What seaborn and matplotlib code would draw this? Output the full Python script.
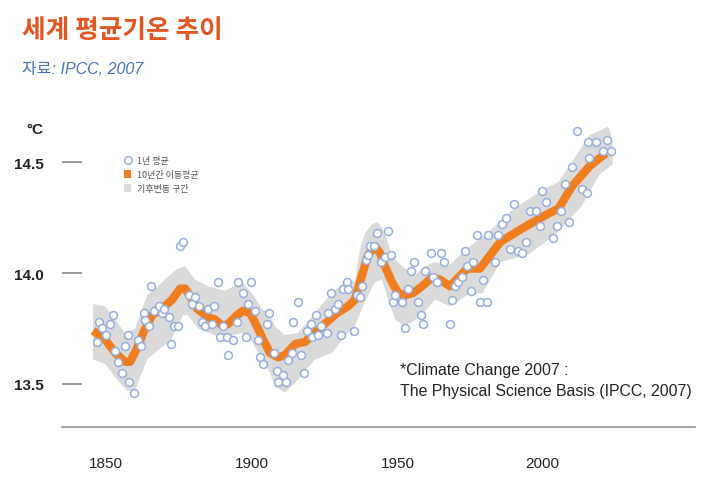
import numpy as np
import matplotlib
matplotlib.use("Agg")
import matplotlib.pyplot as plt
import seaborn as sns
from matplotlib.lines import Line2D
from matplotlib.patches import Patch

# --- data (x in the picture's own year scale) ---
# annual means (1년 평균)
pt_year = [1851.3, 1851.9, 1852.9, 1854.2, 1855.5, 1856.4, 1857.1, 1858.0, 1859.3, 1860.3,
           1861.3, 1861.6, 1863.2, 1864.5, 1865.4, 1866.4, 1866.7, 1868.0, 1868.6, 1869.6,
           1871.2, 1872.2, 1872.8, 1874.4, 1875.1, 1876.0, 1877.3, 1878.0, 1878.9, 1880.9,
           1881.8, 1882.8, 1884.1, 1885.0, 1886.0, 1887.0, 1888.3, 1888.9, 1890.2, 1890.8,
           1891.8, 1893.1, 1893.4, 1895.0, 1896.3, 1896.6, 1898.2, 1899.2, 1899.8, 1900.8,
           1902.1, 1903.1, 1903.7, 1904.7, 1905.9, 1906.6, 1908.2, 1909.2, 1909.5, 1911.1,
           1912.1, 1912.7, 1914.0, 1914.3, 1915.9, 1916.9, 1917.8, 1918.8, 1920.1, 1920.4,
           1921.7, 1922.3, 1923.3, 1925.2, 1925.6, 1926.5, 1927.8, 1928.8, 1929.7, 1930.4,
           1931.7, 1932.0, 1933.9, 1934.9, 1935.9, 1936.5, 1937.8, 1938.4, 1939.1, 1940.4,
           1941.3, 1942.6, 1943.9, 1944.9, 1945.8, 1946.5, 1947.1, 1949.4, 1950.3, 1951.3,
           1952.3, 1953.2, 1954.5, 1955.5, 1956.1, 1956.8, 1958.7, 1959.3, 1960.6, 1961.9,
           1962.9, 1964.8, 1965.4, 1966.4, 1967.4, 1968.6, 1969.6, 1970.3, 1971.5, 1972.2,
           1973.5, 1974.4, 1975.4, 1976.7, 1977.1, 1979.3, 1980.2, 1981.4, 1982.8, 1984.1,
           1985.3, 1986.7, 1987.9, 1989.3, 1990.6, 1992.4, 1993.6, 1994.5, 1995.7, 1997.9,
           1999.2, 2000.6, 2001.8, 2003.2, 2004.0, 2005.7, 2007.1, 2008.8, 2009.2, 2009.6,
           2011.8, 2014.0, 2015.3, 2016.7]
pt_temp = [13.69, 13.78, 13.75, 13.72, 13.77, 13.81, 13.65, 13.60, 13.55, 13.67,
           13.72, 13.51, 13.46, 13.70, 13.67, 13.82, 13.79, 13.76, 13.94, 13.83,
           13.85, 13.82, 13.84, 13.80, 13.68, 13.76, 13.76, 14.12, 14.14, 13.90,
           13.86, 13.89, 13.85, 13.78, 13.76, 13.84, 13.77, 13.85, 13.96, 13.71,
           13.76, 13.71, 13.63, 13.70, 13.78, 13.96, 13.91, 13.71, 13.86, 13.96,
           13.83, 13.70, 13.62, 13.59, 13.77, 13.82, 13.64, 13.56, 13.51, 13.54,
           13.51, 13.61, 13.64, 13.78, 13.87, 13.63, 13.55, 13.74, 13.77, 13.71,
           13.81, 13.72, 13.76, 13.73, 13.82, 13.91, 13.84, 13.86, 13.72, 13.93,
           13.96, 13.93, 13.74, 13.90, 13.89, 13.94, 14.06, 14.08, 14.12, 14.12,
           14.18, 14.05, 14.07, 14.19, 14.08, 13.87, 13.90, 13.87, 13.75, 13.93,
           14.01, 14.05, 13.87, 13.81, 13.77, 14.01, 14.09, 13.98, 13.96, 14.09,
           14.05, 13.77, 13.88, 13.94, 13.96, 13.98, 14.10, 14.03, 13.92, 14.05,
           14.17, 13.87, 13.97, 13.87, 14.17, 14.05, 14.17, 14.22, 14.25, 14.11,
           14.31, 14.10, 14.09, 14.14, 14.28, 14.28, 14.21, 14.37, 14.32, 14.16,
           14.21, 14.28, 14.40, 14.23, 14.48, 14.64, 14.38, 14.36, 14.59, 14.52,
           14.59, 14.55, 14.60, 14.55]

# 10-year moving average (10년간 이동평균)
ma_year = [1850.0, 1853.9, 1857.1, 1860.3, 1861.9, 1864.1, 1866.1, 1869.0, 1872.2, 1875.4,
           1878.0, 1879.6, 1881.8, 1883.4, 1887.0, 1889.2, 1891.8, 1893.4, 1896.3, 1898.2,
           1900.5, 1902.7, 1904.7, 1906.9, 1909.5, 1911.7, 1915.0, 1918.2, 1921.4, 1925.2,
           1928.5, 1932.0, 1934.2, 1936.5, 1938.4, 1940.7, 1942.3, 1943.9, 1946.1, 1948.1,
           1950.3, 1952.9, 1955.8, 1959.0, 1961.6, 1964.8, 1970.3, 1974.4, 1981.0, 1987.9,
           1996.7, 1999.7, 2004.0, 2009.6, 2014.9]
ma_temp = [13.74, 13.70, 13.64, 13.60, 13.60, 13.66, 13.73, 13.81, 13.84, 13.88,
           13.93, 13.93, 13.88, 13.84, 13.80, 13.79, 13.76, 13.77, 13.81, 13.83,
           13.82, 13.76, 13.70, 13.64, 13.62, 13.63, 13.68, 13.69, 13.73, 13.78,
           13.82, 13.85, 13.88, 13.99, 14.08, 14.12, 14.09, 14.03, 13.96, 13.91,
           13.90, 13.91, 13.94, 13.98, 13.97, 13.94, 14.02, 14.02, 14.14, 14.20,
           14.27, 14.29, 14.39, 14.48, 14.54]

# variability range (기후변동 구간): upper and lower edges
band_up_year = [1850.0, 1853.9, 1857.1, 1860.3, 1863.5, 1867.4, 1871.5, 1875.4, 1877.3, 1879.6,
                1882.8, 1887.0, 1892.4, 1897.9, 1901.1, 1904.3, 1906.9, 1908.5, 1911.7, 1915.9,
                1921.4, 1926.8, 1931.0, 1934.2, 1935.9, 1937.5, 1939.7, 1941.6, 1943.9, 1946.1,
                1949.4, 1953.5, 1956.8, 1960.0, 1964.1, 1970.3, 1976.7, 1985.3, 1995.3, 1999.7,
                2004.0, 2009.6, 2015.7, 2017.1]
band_up = [13.86, 13.85, 13.79, 13.73, 13.75, 13.90, 13.95, 14.00, 14.02, 14.03,
           13.97, 13.94, 13.92, 13.96, 13.91, 13.84, 13.81, 13.76, 13.72, 13.73,
           13.82, 13.91, 13.96, 13.96, 14.11, 14.18, 14.22, 14.23, 14.18, 14.08,
           14.03, 13.99, 14.03, 14.05, 14.03, 14.11, 14.18, 14.29, 14.38, 14.41,
           14.50, 14.62, 14.66, 14.60]
band_lo_year = [1850.0, 1853.9, 1857.1, 1860.9, 1863.5, 1867.4, 1871.5, 1874.8, 1878.9, 1880.5,
                1883.8, 1889.2, 1892.4, 1895.0, 1897.9, 1901.1, 1904.3, 1906.9, 1908.5, 1911.7,
                1915.9, 1921.4, 1926.8, 1932.0, 1934.2, 1935.9, 1937.5, 1940.7, 1942.9, 1944.9,
                1947.1, 1950.3, 1955.8, 1960.0, 1964.8, 1970.3, 1975.4, 1981.0, 1989.7, 1998.4,
                2007.1, 2012.7, 2017.1]
band_lo = [13.61, 13.59, 13.53, 13.47, 13.47, 13.61, 13.66, 13.69, 13.81, 13.81,
           13.75, 13.72, 13.69, 13.72, 13.73, 13.69, 13.61, 13.55, 13.49, 13.46,
           13.52, 13.61, 13.64, 13.73, 13.76, 13.82, 13.87, 13.96, 13.97, 13.88,
           13.79, 13.76, 13.81, 13.88, 13.85, 13.90, 13.91, 14.05, 14.08, 14.17,
           14.30, 14.44, 14.49]

y_ticks = [13.5, 14.0, 14.5]
y_ticklabels = ["13.5", "14.0", "14.5"]
# tick labels sit where the original puts them
x_ticks = [1854.2, 1901.1, 1948.0, 1994.6]
x_ticklabels = ["1850", "1900", "1950", "2000"]

ORANGE = "#F07D1E"
BAND = "#DADADA"
DOT_EDGE = "#98AEDC"
TITLE_RED = "#E3561F"
SUB_BLUE = "#4A72B0"

sns.set_theme(style="white")
plt.rcParams["font.family"] = ["Liberation Sans", "Noto Sans CJK KR", "DejaVu Sans"]

fig = plt.figure(figsize=(7.12, 4.85), dpi=100)
ax = fig.add_axes([0.0871, 0.1175, 0.889, 0.635])

# band
ax.fill(np.r_[band_up_year, band_lo_year[::-1]], np.r_[band_up, band_lo[::-1]],
        color=BAND, lw=0, zorder=1)
# moving average
sns.lineplot(x=ma_year, y=ma_temp, ax=ax, color=ORANGE, lw=6, estimator=None,
             sort=False, zorder=2)
ax.lines[-1].set_solid_capstyle("butt")
# annual points
sns.scatterplot(x=pt_year, y=pt_temp, ax=ax, s=32, color="white",
                edgecolor=DOT_EDGE, linewidth=1.1, zorder=3)

ax.set_xlim(1840.0, 2043.6)
ax.set_ylim(13.306, 14.694)
ax.set_yticks(y_ticks)
ax.set_yticklabels(y_ticklabels, fontsize=11, fontweight="bold", color="#222222")
ax.set_xticks(x_ticks)
ax.set_xticklabels(x_ticklabels, fontsize=11, color="#222222")
ax.tick_params(axis="y", direction="in", length=14.4, width=1.1, color="#7a7a7a",
               pad=13, left=True)
ax.tick_params(axis="x", length=0, pad=21)
for side in ["left", "right", "top"]:
    ax.spines[side].set_visible(False)
ax.spines["bottom"].set_color("#8a8a8a")
ax.spines["bottom"].set_linewidth(1.1)
ax.set_xlabel("")
ax.set_ylabel("")

fig.text(35 / 712, 1 - 130 / 485, "°C", fontsize=11, fontweight="bold",
         color="#222222", ha="center", va="center")

# title + source
fig.text(22 / 712, 1 - 31 / 485, "세계 평균기온 추이", fontsize=18.5, fontweight="bold",
         color=TITLE_RED, family=["Noto Sans CJK KR"], va="center")
fig.text(22 / 712, 1 - 70 / 485, "자료: IPCC, 2007", fontsize=11.5, style="italic",
         color=SUB_BLUE, family=["Liberation Sans", "Noto Sans CJK KR"], va="center")

# source note
fig.text(400 / 712, 1 - 381 / 485,
         "*Climate Change 2007 :\nThe Physical Science Basis (IPCC, 2007)",
         fontsize=11.4, color="#222222", ha="left", va="center", linespacing=1.45)

# legend
handles = [
    Line2D([], [], marker="o", linestyle="none", markerfacecolor="white",
           markeredgecolor=DOT_EDGE, markersize=5.5, markeredgewidth=1.1),
    Patch(facecolor=ORANGE, edgecolor="none"),
    Patch(facecolor=BAND, edgecolor="none"),
]
labels = ["1년 평균", "10년간 이동평균", "기후변동 구간"]
fig.legend(handles, labels, loc="upper left", bbox_to_anchor=(124 / 712, 1 - 157 / 485),
           frameon=False, prop={"family": ["Noto Sans CJK KR"], "size": 6.5},
           labelcolor="#555555", handlelength=0.8, handleheight=1.0,
           handletextpad=0.6, labelspacing=0.55, borderpad=0, borderaxespad=0)

fig.savefig("out.png", dpi=100)
